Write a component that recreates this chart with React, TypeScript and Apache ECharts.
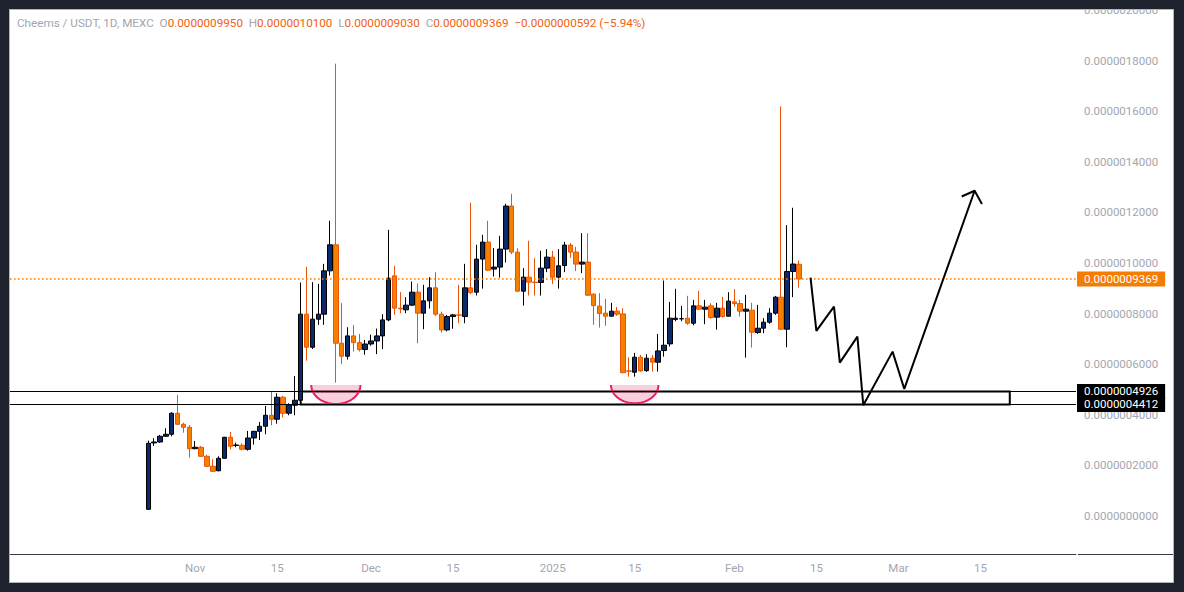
import React, { useEffect, useRef } from 'react';
import * as echarts from 'echarts';

// Prices are stored in units of 1e-10 USDT
const SCALE = 1e-10;
const DAY0 = Date.UTC(2024, 10, 1); // 1 Nov 2024 = day 0
const dayIndex = (iso: string) => {
  const [y, m, d] = iso.split('-').map(Number);
  return Math.round((Date.UTC(y, m - 1, d) - DAY0) / 86400000);
};

const firstCandleDate = '2024-10-24';
const opens = [
  265, 2890, 2927, 3153, 3232, 4063, 3627, 3509, 2662, 2718, 2362, 1966, 1790, 2282, 3113, 2790, 2797, 2638, 3085, 3350,
  3548, 3983, 3825, 4696, 4063, 4379, 4577, 7979, 6673, 7781, 7979, 9691, 10720, 6831, 6317, 7120, 6855, 6580, 6800, 6920,
  7120, 7753, 9494, 8216, 8150, 8335, 8849, 8018, 8505, 9019, 7979, 7357, 7884, 7950, 7884, 9019, 8849, 10155, 10827, 9760,
  9838, 10550, 12251, 10431, 8888, 9442, 9245, 9230, 9798, 10233, 9442, 9901, 10708, 10431, 9957, 10036, 8770, 8295, 8018, 7900,
  8097, 7990, 5736, 5684, 6277, 5747, 6238, 6080, 6540, 6804, 7770, 7793, 7820, 7622, 8307, 8176, 8307, 7860, 8216, 7900,
  8465, 8398, 8097, 8137, 7251, 7425, 7662, 8018, 8651, 7385, 9664, 9950,
];
const closes = [
  2876, 2927, 3153, 3232, 4063, 3627, 3509, 2662, 2718, 2362, 1966, 1768, 2282, 3113, 2757, 2808, 2638, 3085, 3350, 3548,
  3983, 3825, 4696, 4063, 4379, 4577, 7979, 6673, 7781, 7979, 9691, 10720, 6831, 6317, 7120, 6855, 6580, 6800, 6920, 7120,
  7753, 9400, 8216, 8188, 8335, 8849, 8018, 8505, 9019, 7979, 7357, 7884, 7950, 7940, 9019, 8835, 10155, 10827, 9719, 9838,
  10550, 12251, 10431, 8888, 9442, 9245, 9230, 9798, 10233, 9442, 9889, 10708, 10431, 9957, 10036, 8730, 8319, 8002, 7900, 8097,
  7979, 5668, 5724, 6277, 5736, 6238, 6080, 6527, 6752, 7820, 7820, 7800, 7622, 8307, 8176, 8256, 7844, 8216, 7884, 8493,
  8398, 8097, 8176, 7267, 7425, 7662, 8018, 8651, 7385, 9664, 9961, 9369,
];
const lows = [
  250, 2769, 2900, 3130, 3153, 3600, 3295, 2306, 2640, 2340, 1950, 1750, 1770, 2270, 2638, 2718, 2598, 2584, 2822, 3006,
  3232, 3588, 3650, 3904, 3983, 3983, 4430, 6143, 6602, 7555, 7555, 9506, 5273, 6001, 6183, 6500, 6500, 6375, 6730, 6400,
  6600, 7700, 7950, 8018, 8018, 8300, 6831, 7385, 8200, 7900, 7250, 7300, 7400, 7620, 7620, 8770, 8714, 8990, 9680, 9466,
  9427, 10020, 10350, 8850, 8319, 8714, 8714, 8714, 9640, 9165, 8990, 9640, 10200, 9680, 9600, 8700, 7555, 7448, 7520, 7880,
  7910, 5640, 5510, 5510, 5700, 5700, 5708, 5708, 6300, 6700, 7700, 7700, 7560, 7540, 8150, 7583, 7800, 7370, 7850, 7880,
  8279, 7884, 6262, 6658, 7200, 7227, 7600, 7950, 7350, 6673, 8651, 9030,
];
const highs = [
  2979, 3074, 3204, 3469, 4102, 4786, 3690, 3600, 2967, 2769, 2420, 2243, 2361, 3130, 3323, 2900, 2876, 3362, 3360, 3718,
  4351, 4917, 4854, 4750, 4459, 5538, 9229, 9850, 9244, 9177, 9968, 11669, 17880, 8414, 7464, 7555, 7200, 6960, 7170, 7410,
  7980, 11313, 9889, 8849, 8650, 9270, 9190, 9138, 9440, 9640, 8081, 7950, 7990, 9138, 9968, 12381, 10720, 11115, 11669, 10590,
  11076, 12342, 12737, 10590, 9798, 10878, 10194, 10483, 10550, 10483, 10550, 10838, 10787, 10640, 11182, 11182, 8800, 8809, 8584, 8425,
  8267, 8216, 6277, 6448, 6369, 6396, 6369, 7199, 9308, 8465, 8979, 8307, 8703, 8544, 8900, 8544, 8412, 8425, 8663, 8849,
  8967, 8544, 8742, 8425, 8346, 7820, 8216, 8700, 16190, 11500, 12184, 10100,
];

const xTickDates = ['2024-11-01', '2024-11-15', '2024-12-01', '2024-12-15', '2025-01-01', '2025-01-15', '2025-02-01', '2025-02-15', '2025-03-01', '2025-03-15'];
const xTickLabels = ['Nov', '15', 'Dec', '15', '2025', '15', 'Feb', '15', 'Mar', '15'];
const yTicks = [0, 2000, 4000, 6000, 8000, 10000, 12000, 14000, 16000, 18000, 20000];

// drawn annotations
const supportLevels = [4926, 4412];
const zoneStart = '2024-11-19';
const zoneEnd = '2025-03-20';
const arcDates = ['2024-11-25', '2025-01-15'];
const arcTops = [5182, 5182];
const arcHalfWidths = [4.2, 4.05]; // days
const arcDepths = [752, 724];
const pathDates = ['2025-02-14', '2025-02-15', '2025-02-18', '2025-02-19', '2025-02-22', '2025-02-23', '2025-02-28', '2025-03-02', '2025-03-14'];
const pathPrices = [9426, 7318, 8279, 6064, 7093, 4379, 6499, 5024, 12856];
const headOffsets = [-2.2, 0, 1.25]; // days from arrow tip
const headPrices = [12630, 12856, 12330];

const fmt = (v: number) => (v * SCALE).toFixed(10);

export default function App() {
  const ref = useRef<HTMLDivElement>(null);
  useEffect(() => {
    if (!ref.current) return;
    const chart = echarts.init(ref.current, null, { renderer: 'svg' });
    const d0 = dayIndex(firstCandleDate);
    const candles = opens.map((o, i) => [d0 + i, o, closes[i], lows[i], highs[i]]);
    const n = opens.length;
    const O = opens[n - 1], C = closes[n - 1], H = highs[n - 1], L = lows[n - 1];
    const chg = C - closes[n - 2];
    const pct = (Math.abs(chg) / closes[n - 2]) * 100;
    const sign = chg < 0 ? '\u2212' : '+';
    const xTickDays = xTickDates.map(dayIndex);
    const labelMap: Record<number, string> = {};
    xTickDays.forEach((d, i) => (labelMap[d] = xTickLabels[i]));
    const gray = '#a3a6af';
    const red = '#f2600c';
    const font = 'Roboto, sans-serif';
    const tipDay = dayIndex(pathDates[pathDates.length - 1]);

    const option: any = {
      animation: false,
      backgroundColor: '#ffffff',
      textStyle: { fontFamily: font },
      title: {
        left: 7,
        top: 7,
        padding: 0,
        text:
          `{g|Cheems / USDT, 1D, MEXC}  {g|O}{o|${fmt(O)}}  {g|H}{o|${fmt(H)}}  {g|L}{o|${fmt(L)}}  {g|C}{o|${fmt(C)}}  ` +
          `{o|${sign}${fmt(Math.abs(chg))} (${sign}${pct.toFixed(2)}%)}`,
        textStyle: {
          fontSize: 11.7,
          fontWeight: 'normal',
          color: gray,
          fontFamily: font,
          rich: {
            g: { color: gray, fontSize: 11.7, fontFamily: font },
            o: { color: red, fontSize: 11.7, fontFamily: font },
          },
        },
      },
      grid: { left: 0, right: 97, top: 0, bottom: 28, outerBoundsMode: 'none', containLabel: false },
      xAxis: {
        type: 'value',
        min: -31.6,
        max: 150.3,
        axisLine: { show: true, onZero: false, lineStyle: { color: '#363a45', width: 1 } },
        axisTick: { show: false },
        splitLine: { show: false },
        axisLabel: {
          customValues: xTickDays,
          formatter: (v: number) => labelMap[v] ?? '',
          color: gray,
          fontSize: 11.5,
          margin: 8,
          fontFamily: font,
        },
      },
      yAxis: {
        type: 'value',
        position: 'right',
        min: -1500,
        max: 20000,
        axisLine: { show: false },
        axisTick: { show: false },
        splitLine: { show: false },
        axisLabel: {
          customValues: yTicks,
          formatter: (v: number) => fmt(v),
          color: gray,
          fontSize: 11.5,
          margin: 8,
          fontFamily: font,
        },
      },
      graphic: [
        { type: 'line', shape: { x1: 1068, y1: 544.5, x2: 1163, y2: 544.5 }, style: { stroke: '#363a45', lineWidth: 1 }, silent: true },
      ],
      series: [
        {
          type: 'candlestick',
          dimensions: ['day', 'open', 'close', 'lowest', 'highest'],
          encode: { x: 0, y: [1, 2, 3, 4] },
          data: candles,
          barWidth: 5,
          itemStyle: { color: '#0b2a6b', color0: '#f77f00', borderColor: '#000000', borderColor0: '#e8550a', borderWidth: 1 },
          silent: true,
          z: 3,
          markLine: {
            silent: true,
            symbol: 'none',
            animation: false,
            label: {
              position: 'end',
              distance: 1,
              color: '#ffffff',
              fontSize: 11.5,
              fontFamily: font,
              padding: [1, 7, 1, 7],
              lineHeight: 13,
              formatter: (p: any) => fmt(p.value),
            },
            data: [
              { yAxis: C, lineStyle: { color: '#ff7a00', width: 1.6, type: [1.6, 2.4], opacity: 1 }, label: { backgroundColor: '#f57c00' } },
              ...supportLevels.map((v) => ({ yAxis: v, lineStyle: { color: '#000000', width: 1, type: 'solid' }, label: { backgroundColor: '#000000' } })),
            ],
          },
          markArea: {
            silent: true,
            itemStyle: { color: 'rgba(0,0,0,0)', borderColor: '#000000', borderWidth: 2 },
            data: [[{ xAxis: dayIndex(zoneStart), yAxis: supportLevels[0] }, { xAxis: dayIndex(zoneEnd), yAxis: supportLevels[1] }]],
          },
        },
        {
          type: 'custom',
          silent: true,
          z: 4,
          clip: false,
          encode: { x: 0, y: 1 },
          data: arcDates.map((d, i) => [dayIndex(d), arcTops[i], arcHalfWidths[i], arcDepths[i]]),
          renderItem: (params: any, api: any) => {
            const cx = api.value(0), top = api.value(1), hw = api.value(2), depth = api.value(3);
            const c = api.coord([cx, top]);
            const e = api.coord([cx + hw, top]);
            const b = api.coord([cx, top - depth]);
            const rx = e[0] - c[0];
            const ry = b[1] - c[1];
            const pts: number[][] = [];
            for (let i = 0; i <= 48; i++) {
              const t = (Math.PI * i) / 48;
              pts.push([c[0] + rx * Math.cos(t), c[1] + ry * Math.sin(t)]);
            }
            return {
              type: 'group',
              children: [
                { type: 'polygon', shape: { points: pts }, style: { fill: 'rgba(233,30,99,0.22)' } },
                { type: 'polyline', shape: { points: pts }, style: { stroke: '#e91e63', lineWidth: 2, fill: null } },
              ],
            };
          },
        },
        {
          type: 'line',
          silent: true,
          z: 5,
          symbol: 'none',
          data: pathDates.map((d, i) => [dayIndex(d), pathPrices[i]]),
          lineStyle: { color: '#000000', width: 2 },
        },
        {
          type: 'line',
          silent: true,
          z: 5,
          symbol: 'none',
          data: headOffsets.map((o, i) => [tipDay + o, headPrices[i]]),
          lineStyle: { color: '#000000', width: 2 },
        },
      ],
    };
    chart.setOption(option);
    return () => chart.dispose();
  }, []);

  return (
    <div style={{ position: 'fixed', left: 0, top: 0, width: 1184, height: 592, background: '#1e222d' }}>
      <div
        style={{
          position: 'absolute',
          left: 9,
          top: 9,
          width: 1165,
          height: 574,
          border: '1px solid #b2b5be',
          boxSizing: 'border-box',
          background: '#ffffff',
        }}
      >
        <div ref={ref} style={{ position: 'absolute', left: 0, top: 0, width: 1163, height: 572 }} />
      </div>
    </div>
  );
}
